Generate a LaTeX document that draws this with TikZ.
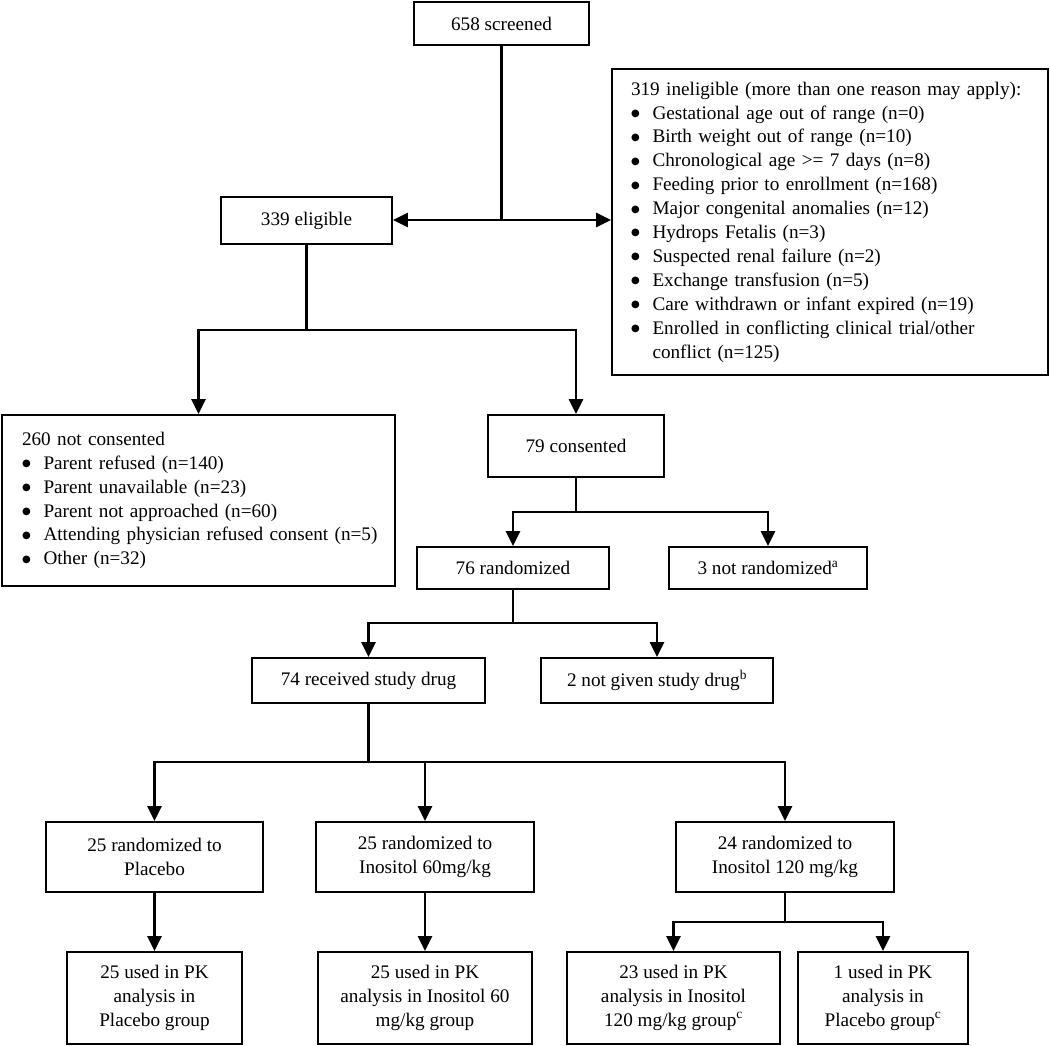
\documentclass[tikz,border=0pt]{standalone}
\usepackage{fontspec}
\setmainfont{Liberation Serif}
\newfontfamily\dejavu{DejaVu Sans}
\usetikzlibrary{arrows.meta}
\newcommand\bl{\makebox[21.5pt][l]{\raisebox{2.6pt}{\dejavu\fontsize{10pt}{10pt}\selectfont ●}}}
\newcommand\fs{\fontsize{19.2pt}{23.9pt}\selectfont}
\begin{document}
\begin{tikzpicture}[x=1pt,y=-1pt,
  box/.style={draw, line width=1.9pt, inner sep=0pt, align=center, font=\fs},
  listbox/.style={box, align=left},
  line/.style={line width=2.7pt},
  arr/.style={line, -{Triangle[length=15pt,width=14pt]}}]
\useasboundingbox (0,0) rectangle (1050,1046);
% nodes
\node[box, minimum width=175pt, minimum height=43pt] (screened) at (501.5,23.5) {658 screened};
\node[box, minimum width=171pt, minimum height=47pt] (eligible) at (306.5,220.5) {339 eligible};
\node[listbox, text width=398pt, inner xsep=19pt, minimum height=306pt] (inel) at (830,222) {%
319 ineligible (more than one reason may apply):\\
\bl Gestational age out of range (n=0)\\
\bl Birth weight out of range (n=10)\\
\bl Chronological age >= 7 days (n=8)\\
\bl Feeding prior to enrollment (n=168)\\
\bl Major congenital anomalies (n=12)\\
\bl Hydrops Fetalis (n=3)\\
\bl Suspected renal failure (n=2)\\
\bl Exchange transfusion (n=5)\\
\bl Care withdrawn or infant expired (n=19)\\
\bl Enrolled in conflicting clinical trial/other\\
\hspace*{21.5pt}conflict (n=125)};
\node[listbox, text width=353pt, inner xsep=20pt, minimum height=171pt] (notcons) at (198.5,500.5) {%
260 not consented\\
\bl \mbox{Parent refused (n=140)}\\
\bl \mbox{Parent unavailable (n=23)}\\
\bl \mbox{Parent not approached (n=60)}\\
\bl \mbox{Attending physician refused consent (n=5)}\\
\bl \mbox{Other (n=32)}};
\node[box, minimum width=176pt, minimum height=62pt] (cons) at (576,446) {79 consented};
\node[box, minimum width=192pt, minimum height=42pt] (rand) at (513,568) {76 randomized};
\node[box, minimum width=198pt, minimum height=42pt] (notrand) at (768,568) {3 not randomized\textsuperscript{a}};
\node[box, minimum width=233pt, minimum height=45pt] (recv) at (368.5,680.5) {74 received study drug};
\node[box, minimum width=232pt, minimum height=45pt] (notgiven) at (657,680.5) {2 not given study drug\textsuperscript{b}};
\node[box, minimum width=217pt, minimum height=70pt] (pla) at (154.5,857) {25 randomized to\\Placebo};
\node[box, minimum width=218pt, minimum height=70pt] (i60) at (425,857) {25 randomized to\\Inositol 60mg/kg};
\node[box, minimum width=218pt, minimum height=70pt] (i120) at (785,857) {24 randomized to\\Inositol 120 mg/kg};
\node[box, minimum width=175pt, minimum height=92pt] (pkp) at (154.5,998) {25 used in PK\\analysis in\\Placebo group};
\node[box, minimum width=214pt, minimum height=92pt] (pk60) at (425,998) {25 used in PK\\analysis in Inositol 60\\mg/kg group};
\node[box, minimum width=213pt, minimum height=92pt] (pk120) at (673.5,998) {23 used in PK\\analysis in Inositol\\120 mg/kg group\textsuperscript{c}};
\node[box, minimum width=170pt, minimum height=92pt] (pk1) at (883,998) {1 used in PK\\analysis in\\Placebo group\textsuperscript{c}};
% junction levels
\coordinate (l1) at (0,220);
\coordinate (l2) at (0,330);
\coordinate (l3) at (0,512);
\coordinate (l4) at (0,623);
\coordinate (l5) at (0,762);
\coordinate (l6) at (0,922);
\coordinate (j1) at (screened.south |- l1);
\coordinate (j2) at (eligible.south |- l2);
\coordinate (j3) at (cons.south |- l3);
\coordinate (j4) at (rand.south |- l4);
\coordinate (j5) at (recv.south |- l5);
\coordinate (j6) at (i120.south |- l6);
% connectors
\draw[line] (screened.south) -- (j1);
\draw[arr] (j1) -- (j1 -| eligible.east);
\draw[arr] (j1) -- (j1 -| inel.west);
\draw[line] (eligible.south) -- (j2);
\draw[arr] (j2) -| (notcons.north);
\draw[arr] (j2) -| (cons.north);
\draw[line] (cons.south) -- (j3);
\draw[arr] (j3) -| (rand.north);
\draw[arr] (j3) -| (notrand.north);
\draw[line] (rand.south) -- (j4);
\draw[arr] (j4) -| (recv.north);
\draw[arr] (j4) -| (notgiven.north);
\draw[line] (recv.south) -- (j5);
\draw[arr] (j5) -| (pla.north);
\draw[arr] (j5) -| (i60.north);
\draw[arr] (j5) -| (i120.north);
\draw[arr] (pla) -- (pkp);
\draw[arr] (i60) -- (pk60);
\draw[line] (i120.south) -- (j6);
\draw[arr] (j6) -| (pk120.north);
\draw[arr] (j6) -| (pk1.north);
\end{tikzpicture}
\end{document}
